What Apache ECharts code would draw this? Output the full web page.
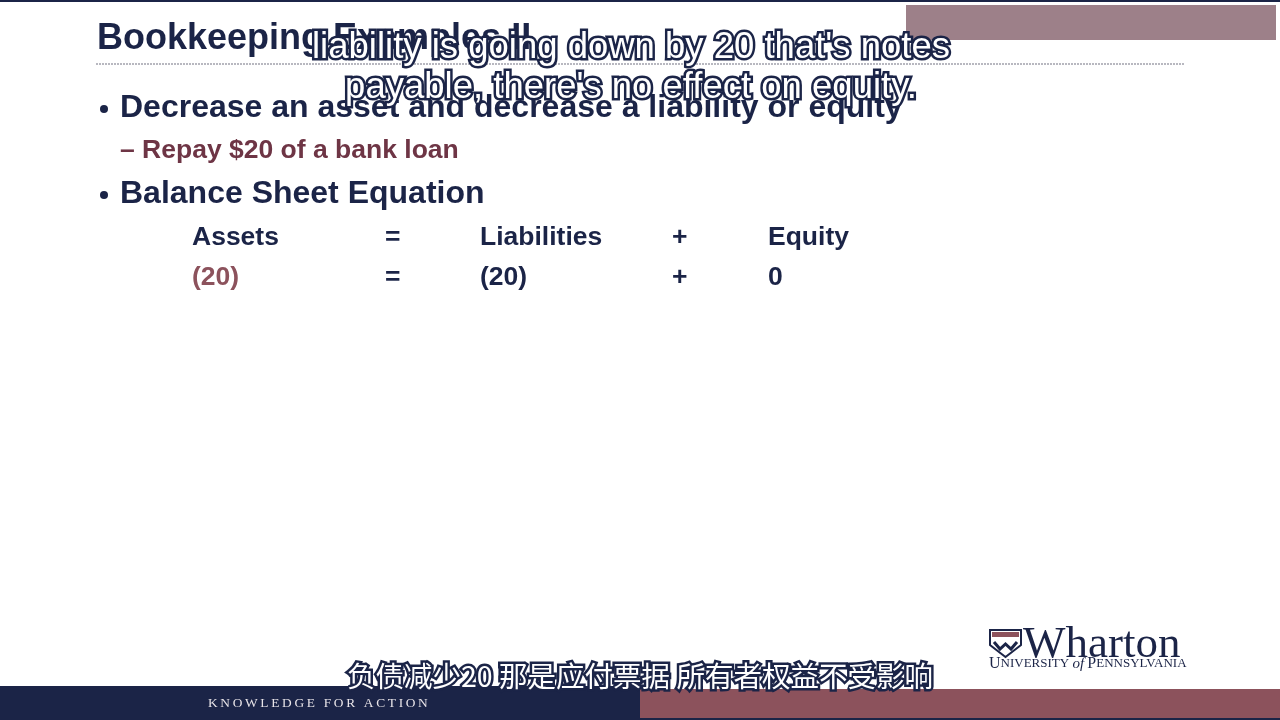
<!DOCTYPE html>
<html>
<head>
<meta charset="utf-8">
<script src="https://cdn.jsdelivr.net/npm/echarts@6/dist/echarts.min.js"></script>
<style>
  html, body { margin: 0; padding: 0; background: #fff; }
  #slide { width: 1280px; height: 720px; }
</style>
</head>
<body>
<div id="slide"></div>
<script>
  var titleText = 'Bookkeeping Examples II';
  var bulletTexts = ['Decrease an asset and decrease a liability or equity', 'Balance Sheet Equation'];
  var subBulletText = '\u2013 Repay $20 of a bank loan';
  var equationHeaders = ['Assets', '=', 'Liabilities', '+', 'Equity'];
  var equationValues = ['(20)', '=', '(20)', '+', '0'];
  var equationColumns = [192, 385, 480, 672, 768];
  var captionLines = ["liability is going down by 20 that's notes", "payable, there's no effect on equity."];
  var captionChinese = '负债减少20 那是应付票据 所有者权益不受影响';
  var footerText = 'KNOWLEDGE FOR ACTION';

  var navy = '#1b2447';
  var maroon = '#8c525c';

  var slide = document.getElementById('slide');
  var myChart = echarts.init(slide, null, { renderer: 'canvas' });

  var elements = [];

  // frame bars
  elements.push({ type: 'rect', shape: { x: 0, y: 0, width: 1280, height: 2 }, style: { fill: navy } });
  elements.push({ type: 'rect', shape: { x: 906, y: 5, width: 370, height: 35 }, style: { fill: '#9d8089' } });
  elements.push({ type: 'line', shape: { x1: 96, y1: 64, x2: 1185, y2: 64 },
    style: { stroke: '#b8b8c0', lineWidth: 2, lineDash: [2, 1] } });

  // title
  elements.push({ type: 'text', x: 97, y: 39, style: {
    text: titleText, fill: navy, font: 'bold 36px "Liberation Sans", Arial', verticalAlign: 'middle'
  } });

  // bullets
  var bulletY = [108, 194];
  bulletTexts.forEach(function (t, i) {
    elements.push({ type: 'circle', shape: { cx: 104, cy: bulletY[i] + 1, r: 4 }, style: { fill: navy } });
    elements.push({ type: 'text', x: 120, y: bulletY[i], style: {
      text: t, fill: navy, font: 'bold 32px "Liberation Sans", Arial', verticalAlign: 'middle'
    } });
  });
  elements.push({ type: 'text', x: 120, y: 151, style: {
    text: subBulletText, fill: '#6e3545', font: 'bold 26.5px "Liberation Sans", Arial', verticalAlign: 'middle'
  } });

  // equation rows
  equationHeaders.forEach(function (t, i) {
    elements.push({ type: 'text', x: equationColumns[i], y: 238, style: {
      text: t, fill: navy, font: 'bold 26.5px "Liberation Sans", Arial', verticalAlign: 'middle'
    } });
  });
  equationValues.forEach(function (t, i) {
    elements.push({ type: 'text', x: equationColumns[i], y: 278, style: {
      text: t, fill: i === 0 ? maroon : navy, font: 'bold 26.5px "Liberation Sans", Arial', verticalAlign: 'middle'
    } });
  });

  // Wharton logo
  elements.push({ type: 'polygon', shape: { points: [[990, 630], [1021, 630], [1021, 645], [1005.5, 657], [990, 645]] },
    style: { fill: '#fff', stroke: navy, lineWidth: 2 } });
  elements.push({ type: 'rect', shape: { x: 992, y: 632, width: 27, height: 5 }, style: { fill: maroon } });
  elements.push({ type: 'polyline', shape: { points: [[994, 642], [1000, 649], [1005.5, 644], [1011, 649], [1017, 642]] },
    style: { stroke: navy, lineWidth: 3, fill: null } });
  elements.push({ type: 'text', x: 1023, y: 645, style: {
    text: 'Wharton', fill: navy, font: '45px "Liberation Serif", "DejaVu Serif", serif', verticalAlign: 'middle'
  } });
  elements.push({ type: 'text', x: 989, y: 664, style: {
    rich: {
      b: { font: '16px "Liberation Serif", serif', fill: navy },
      c: { font: '13px "Liberation Serif", serif', fill: navy },
      i: { font: 'italic 15px "Liberation Serif", serif', fill: navy }
    },
    text: '{b|U}{c|NIVERSITY }{i|of}{c| }{b|P}{c|ENNSYLVANIA}', verticalAlign: 'middle'
  } });

  // footer
  elements.push({ type: 'rect', shape: { x: 0, y: 686, width: 640, height: 34 }, style: { fill: navy } });
  elements.push({ type: 'rect', shape: { x: 640, y: 689, width: 640, height: 29 }, style: { fill: maroon } });
  elements.push({ type: 'rect', shape: { x: 640, y: 718, width: 640, height: 2 }, style: { fill: navy } });
  elements.push({ type: 'text', x: 208, y: 703, style: {
    text: footerText.split('').join('\u2009'), fill: '#e8e4e8',
    font: '13.4px "Liberation Serif", serif', verticalAlign: 'middle'
  } });

  // captions (white text, dark outline)
  var captionY = [48, 88];
  captionLines.forEach(function (t, i) {
    elements.push({ type: 'text', x: 631, y: captionY[i], style: {
      text: t, fill: '#fff', stroke: navy, lineWidth: 5,
      font: '36.5px "Liberation Sans", Arial', align: 'center', verticalAlign: 'middle'
    } });
  });
  elements.push({ type: 'text', x: 640, y: 676, style: {
    text: captionChinese, fill: '#fff', stroke: navy, lineWidth: 5,
    font: '28.5px "Noto Sans CJK SC", sans-serif', align: 'center', verticalAlign: 'middle'
  } });

  var slideOptions = {
    backgroundColor: '#fff',
    animation: false,
    graphic: { elements: elements }
  };

  if (slideOptions && typeof slideOptions === 'object') {
    myChart.setOption(slideOptions);
  }

  window.addEventListener('resize', myChart.resize);
</script>
</body>
</html>
